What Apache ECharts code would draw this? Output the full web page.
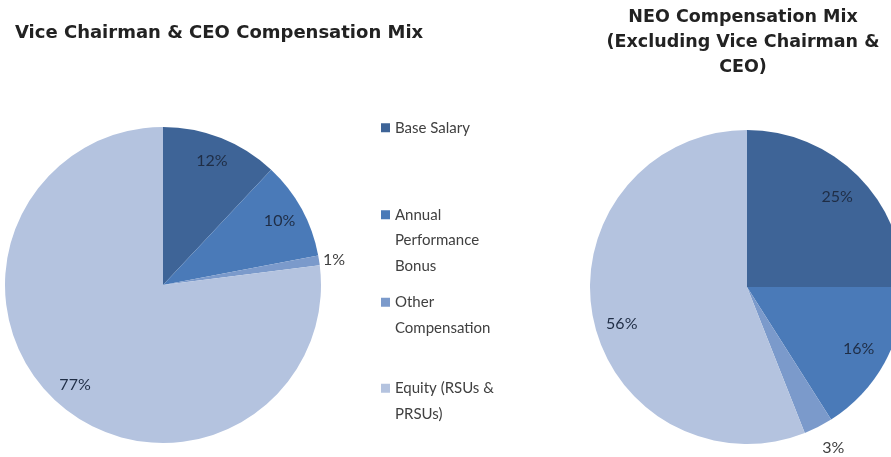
<!DOCTYPE html>
<html style="height: 100%">
<head>
  <meta charset="utf-8">
</head>
<body style="height: 100%; margin: 0; background: #fff">
  <div id="container" style="width: 891px; height: 457px"></div>
  <script src="https://cdn.jsdelivr.net/npm/echarts@6/dist/echarts.min.js"></script>
  <script>
    // data
    var categories = ['Base Salary', 'Annual Performance Bonus', 'Other Compensation', 'Equity (RSUs & PRSUs)'];
    var legendText = ['Base Salary', 'Annual\nPerformance\nBonus', 'Other\nCompensation', 'Equity (RSUs &\nPRSUs)'];
    var ceoValues = [12, 10, 1, 77];
    var neoValues = [25, 16, 3, 56];
    var colors = ['#3e6497', '#4a7ab8', '#7b9acb', '#b4c3df'];

    var dom = document.getElementById('container');
    var myChart = echarts.init(dom);

    var labelFont = { fontFamily: 'Lato', fontSize: 16, color: '#1f2d45' };

    // the coloured pie itself, no labels
    function pieSeries(values, center, r) {
      return {
        type: 'pie',
        center: center,
        radius: r,
        animation: false,
        avoidLabelOverlap: false,
        emphasis: { scale: false },
        label: { show: false },
        labelLine: { show: false },
        itemStyle: { borderWidth: 0 },
        data: values.map(function (v, i) {
          return { name: categories[i], value: v, itemStyle: { color: colors[i] } };
        })
      };
    }

    // invisible ring on top, only to put the labels further out than r/2
    function labelRing(values, center, r0, r, outside) {
      return {
        type: 'pie',
        center: center,
        radius: [r0, r],
        silent: true,
        animation: false,
        avoidLabelOverlap: false,
        legendHoverLink: false,
        label: Object.assign({ show: true, position: 'inside', formatter: '{c}%' }, labelFont),
        labelLine: { show: false },
        data: values.map(function (v, i) {
          var item = { name: categories[i], value: v, itemStyle: { color: 'transparent' } };
          if (outside[i]) {
            item.label = { position: 'outside', color: '#404040', distanceToLabelLine: outside[i][1] };
            item.labelLine = { show: false, length: outside[i][0], length2: 0 };
          }
          return item;
        })
      };
    }

    // one legend per entry so the marker sits on the first text line
    var legendTops = [115, 151, 264, 350];
    var legends = categories.map(function (name, i) {
      var lines = legendText[i].split('\n').length;
      return {
        left: 381,
        top: legendTops[i],
        padding: 0,
        icon: 'rect',
        itemWidth: 9,
        itemHeight: 9,
        selectedMode: false,
        data: [name],
        formatter: function () {
          return new Array(lines).join('\n') + legendText[i];
        },
        textStyle: { fontFamily: 'Lato', fontSize: 15, color: '#404040', lineHeight: 25.5 }
      };
    });

    var ringRight = labelRing(neoValues, [747, 287], 92, 157, { 2: [24, -7] });
    ringRight.labelLayout = function (params) {
      if (params.dataIndex === 3) {
        return { dy: 13 };
      }
    };

    var option = {
      backgroundColor: '#fff',
      title: [{
        text: 'Vice Chairman & CEO Compensation Mix',
        left: 15,
        top: 24,
        padding: 0,
        textStyle: { fontFamily: 'DejaVu Sans', fontWeight: 'bold', fontSize: 18, color: '#222' }
      }, {
        text: 'NEO Compensation Mix\n(Excluding Vice Chairman &\nCEO)',
        left: 743,
        textAlign: 'center',
        top: 5,
        padding: 0,
        textStyle: { fontFamily: 'DejaVu Sans', fontWeight: 'bold', fontSize: 17.5, color: '#222', lineHeight: 25 }
      }],
      legend: legends,
      series: [
        pieSeries(ceoValues, [163, 285], 158),
        pieSeries(neoValues, [747, 287], 157),
        labelRing(ceoValues, [163, 285], 102, 158, { 2: [2, 2] }),
        ringRight
      ]
    };
    if (option && typeof option === 'object') {
      myChart.setOption(option, true);
    }
  </script>
</body>
</html>
